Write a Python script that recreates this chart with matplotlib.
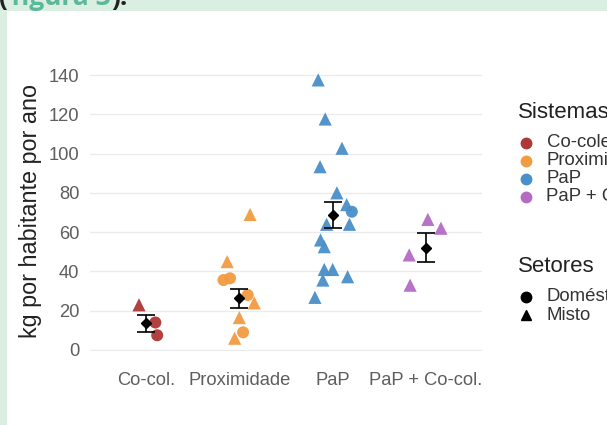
import matplotlib
matplotlib.use("Agg")
import matplotlib.pyplot as plt
from matplotlib.lines import Line2D
from matplotlib.patches import Rectangle

plt.rcParams['font.family'] = ['Liberation Sans', 'DejaVu Sans']

# categories and colours
sistemas = ["Co-col.", "Proximidade", "PaP", "PaP + Co-col."]
legend_sistemas = ["Co-colecta", "Proximidade", "PaP", "PaP + Co-col."]
cores = ['#ad3836', '#f39b43', '#4a8fc9', '#b46bc4']

# individual municipalities: system index, value, sector, jitter
grupo = [0, 0, 0,
         1, 1, 1, 1, 1, 1, 1, 1, 1,
         2, 2, 2, 2, 2, 2, 2, 2, 2, 2, 2, 2, 2, 2, 2, 2,
         3, 3, 3, 3]
valor = [23, 14, 7.5,
         69, 45, 35.6, 36.5, 28, 24, 16.5, 9, 6,
         137.5, 117.6, 102.7, 93.3, 80, 74, 70.4, 64, 64, 56, 52.6, 41, 41, 35.6, 37.3, 26.8,
         66.5, 62, 48.4, 33]
setor = ['M', 'D', 'D',
         'M', 'M', 'D', 'D', 'D', 'M', 'M', 'D', 'M',
         'M', 'M', 'M', 'M', 'M', 'M', 'D', 'M', 'M', 'M', 'M', 'M', 'M', 'M', 'M', 'M',
         'M', 'M', 'M', 'M']
jitter = [-0.075, 0.10, 0.12,
          0.115, -0.13, -0.17, -0.10, 0.09, 0.16, 0.0, 0.04, -0.05,
          -0.155, -0.08, 0.10, -0.135, 0.045, 0.15, 0.205, -0.065, 0.18, -0.13, -0.09, -0.09, 0.0, -0.105, 0.16, -0.19,
          0.02, 0.16, -0.18, -0.17]

# mean and error bar per system
media = [13.6, 26.3, 68.7, 52.0]
erro_inf = [9.3, 21.2, 62.0, 44.8]
erro_sup = [17.8, 30.9, 75.5, 59.6]

W, H = 607, 425
fig = plt.figure(figsize=(W / 100, H / 100), dpi=100)
fig.patch.set_facecolor('#daeee2')

# white page block and cut-off heading above it
base = 1 - 5 / H
fig.text(-1 / W, base, "(", fontsize=19, fontweight='bold', color='#222222',
         family='Open Sans', va='baseline')
fig.text(11 / W, base, "figura 3", fontsize=19, fontweight='bold', color='#5bb99b',
         family='Open Sans', va='baseline')
fig.text(111 / W, base, ").", fontsize=19, fontweight='bold', color='#222222',
         family='Open Sans', va='baseline')
fig.add_artist(Rectangle((7 / W, 0), 1, 1 - 11 / H, transform=fig.transFigure,
                         facecolor='white', edgecolor='none', zorder=1))

ylo, yhi = -0.6, 144.1
px_per = 275 / 140
ax_bottom = 350 + (0 - ylo) * px_per
ax_top = 350 - yhi * px_per
ax = fig.add_axes([90 / W, (H - ax_bottom) / H, 392 / W, (ax_bottom - ax_top) / H])
ax.set_zorder(2)
ax.patch.set_alpha(0)

for g, v, s, j in zip(grupo, valor, setor, jitter):
    ax.scatter(g + 1 + j, v, marker='o' if s == 'D' else '^',
               s=75 if s == 'D' else 90, color=cores[g], edgecolors='none', alpha=0.95, zorder=3)

xs = [i + 1 for i in range(len(sistemas))]
yerr = [[m - lo for m, lo in zip(media, erro_inf)], [hi - m for m, hi in zip(media, erro_sup)]]
ax.errorbar(xs, media, yerr=yerr, fmt='D', color='black', markersize=5.5,
            elinewidth=1.2, capsize=6.5, capthick=1.2, zorder=4)

ax.set_xlim(0.4, 4.6)
ax.set_ylim(ylo, yhi)
ax.set_yticks(range(0, 141, 20))
ax.set_xticks(xs)
ax.set_xticklabels(sistemas)
ax.grid(axis='y', color='#ebebeb', linewidth=1.0)
ax.set_axisbelow(True)
for sp in ax.spines.values():
    sp.set_visible(False)
ax.tick_params(axis='both', length=0, labelsize=13.2, labelcolor='#5e5e5e')
ax.tick_params(axis='x', pad=15)
ax.tick_params(axis='y', pad=7.7)

fig.text(31 / W, 1 - 211.5 / H, "kg por habitante por ano", rotation=90, fontsize=16.8,
         color='#222222', ha='center', va='center', zorder=3)

# legends drawn by hand in pixel positions
def px(x, y):
    return x / W, 1 - y / H

fig.text(*px(518, 112), "Sistemas", fontsize=16, color='#222222', va='center', zorder=3)
for i, (lab, c) in enumerate(zip(legend_sistemas, cores)):
    y = 142.7 + i * 18
    fig.add_artist(Line2D([526 / W], [1 - y / H], marker='o', markersize=7.5, color=c,
                          linestyle='none', transform=fig.transFigure, zorder=3))
    fig.text(*px(546.5, y), lab, fontsize=13.4, color='#333333', va='center', zorder=3)

fig.text(*px(518, 267), "Setores", fontsize=16, color='#222222', va='center', zorder=3)
for i, (lab, m) in enumerate(zip(["Doméstico", "Misto"], ['o', '^'])):
    y = 296.7 + i * 18.3
    fig.add_artist(Line2D([526 / W], [1 - y / H], marker=m, markersize=7.5, color='black',
                          linestyle='none', transform=fig.transFigure, zorder=3))
    fig.text(*px(546.5, y), lab, fontsize=13.4, color='#333333', va='center', zorder=3)

fig.savefig("out.png", dpi=100, facecolor=fig.get_facecolor())
